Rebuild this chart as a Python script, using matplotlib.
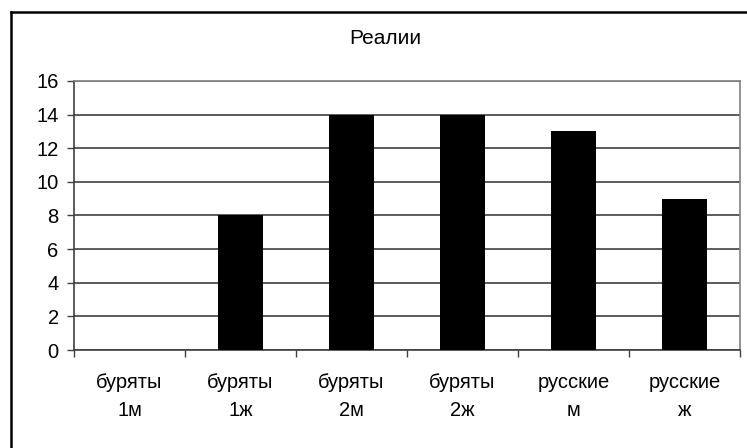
import matplotlib
matplotlib.use("Agg")
import matplotlib.pyplot as plt
from matplotlib.lines import Line2D
import numpy as np

plt.rcParams['font.family'] = ['Liberation Sans', 'DejaVu Sans']

categories = ["буряты\n1м", "буряты\n1ж", "буряты\n2м", "буряты\n2ж", "русские\nм", "русские\nж"]
values = [0, 8, 14, 14, 13, 9]
yticks = [0, 2, 4, 6, 8, 10, 12, 14, 16]
title = "Реалии"

fig = plt.figure(figsize=(7.47, 4.48), dpi=100)
ax = fig.add_axes([74 / 747, 1 - 350 / 448, (740 - 74) / 747, (350 - 81) / 448])

x = np.arange(len(categories))
ax.bar(x, values, width=0.4, color="black", zorder=3)

ax.set_xlim(-0.5, len(categories) - 0.5)
ax.set_ylim(0, 16)
ax.set_yticks(yticks)
ax.set_yticklabels([str(v) for v in yticks], fontsize=14.5)
ax.yaxis.grid(True, color="#404040", linewidth=1.2, zorder=0)

# category labels centred, ticks between categories
ax.set_xticks(x)
ax.set_xticklabels(categories, fontsize=14.5, linespacing=1.62)
ax.tick_params(axis="x", length=0, pad=16.5)
ax.set_xticks(np.arange(len(categories) + 1) - 0.5, minor=True)
ax.tick_params(axis="x", which="minor", length=5, width=1, color="#404040")
ax.tick_params(axis="y", length=5, width=1, color="#404040", pad=6)

for side in ["left", "bottom"]:
    ax.spines[side].set_color("#404040")
    ax.spines[side].set_linewidth(1.2)
ax.spines["right"].set_color("#808080")
ax.spines["top"].set_color("#808080")
ax.spines["right"].set_linewidth(1.2)
ax.spines["top"].set_linewidth(1.2)

fig.text(385 / 747, 1 - 39 / 448, title, ha="center", va="center", fontsize=15)

# outer chart frame (left and top edges fall inside the image)
fig.add_artist(Line2D([10.5 / 747, 10.5 / 747], [0, 1 - 12 / 448], color="black", linewidth=1.8, transform=fig.transFigure))
fig.add_artist(Line2D([10.5 / 747, 1], [1 - 12 / 448, 1 - 12 / 448], color="black", linewidth=1.8, transform=fig.transFigure))

fig.savefig("out.png", dpi=100, facecolor="white")
